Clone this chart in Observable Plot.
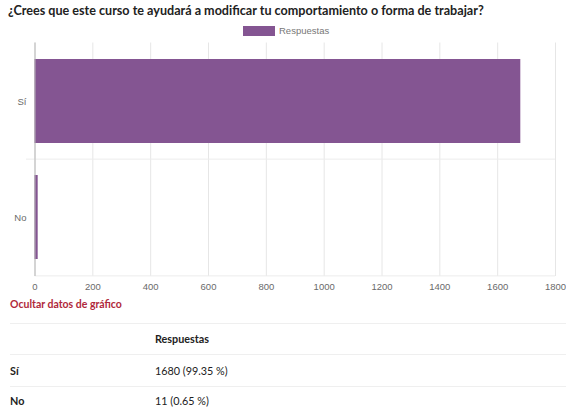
<!DOCTYPE html>
<html>
<head>
<meta charset="utf-8">
<script src="https://cdn.jsdelivr.net/npm/d3@7"></script>
<script src="https://cdn.jsdelivr.net/npm/@observablehq/plot@0.6"></script>
<style>
  html, body { margin: 0; padding: 0; background: #fff; }
  #wrap { position: relative; width: 566px; height: 412px; overflow: hidden; font-family: Lato, "Noto Sans", sans-serif; }
  .abs { position: absolute; white-space: nowrap; }
  #title { left: 8px; top: 3px; font-size: 12.6px; font-weight: 700; color: #222; }
  #legend-swatch { left: 243px; top: 26px; width: 32px; height: 10px; }
  #legend-text { left: 279px; top: 25px; font-family: "Liberation Sans", Arial, sans-serif; font-size: 9.5px; color: #777; line-height: 12px; }
  #chart { left: 0; top: 38px; }
  #toggle { left: 10px; top: 298px; font-size: 10.5px; font-weight: 700; color: #b0283a; }
  .hline { position: absolute; left: 10px; width: 556px; height: 1px; background: #efefef; }
  .cell { position: absolute; font-size: 10.8px; color: #222; line-height: 14px; }
  .b { font-weight: 700; }
</style>
</head>
<body>
<div id="wrap">
  <div id="title" class="abs"></div>
  <div id="legend-swatch" class="abs"></div>
  <div id="legend-text" class="abs"></div>
  <div id="chart" class="abs"></div>
  <div id="toggle" class="abs"></div>
  <div id="table"></div>
</div>
<script>
const titleText = "¿Crees que este curso te ayudará a modificar tu comportamiento o forma de trabajar?";
const seriesName = "Respuestas";
const categories = ["Sí", "No"];
const values = [1680, 11];
const percents = ["99.35 %", "0.65 %"];
const xTicks = [0, 200, 400, 600, 800, 1000, 1200, 1400, 1600, 1800];
const barColor = "#845592";
const toggleText = "Ocultar datos de gráfico";

const data = categories.map((c, i) => ({category: c, value: values[i]}));

document.getElementById("title").textContent = titleText;
document.getElementById("legend-swatch").style.background = barColor;
document.getElementById("legend-text").textContent = seriesName;
document.getElementById("toggle").textContent = toggleText;

const W = 566, H = 258, mt = 4.5, mb = 20, ml = 34.5, mr = 11;
const bw = (H - mt - mb) / categories.length;

const chart = Plot.plot({
  width: W,
  height: H,
  marginTop: mt,
  marginBottom: mb,
  marginLeft: ml,
  marginRight: mr,
  style: {fontFamily: "'Liberation Sans', Arial, sans-serif", fontSize: "9.5px", color: "#6a6a6a", background: "transparent", overflow: "visible"},
  x: {domain: [0, 1800], ticks: xTicks, tickFormat: d => String(d), tickSize: 0, tickPadding: 7, label: null},
  y: {domain: categories, padding: 0, tickSize: 0, tickPadding: 8.5, label: null},
  marks: [
    Plot.ruleX(xTicks, {stroke: "#e6e6e6"}),
    Plot.ruleY([categories[1]], {dy: -bw / 2, insetLeft: -8.5, stroke: "#ececec"}),
    Plot.ruleY([categories[1]], {dy: bw / 2, stroke: "#ececec"}),
    Plot.barX(data, {x: "value", y: "category", fill: barColor, insetTop: 16, insetBottom: 16}),
    Plot.ruleX([0], {stroke: "#b5b5b5"})
  ]
});
document.getElementById("chart").appendChild(chart);

// data table
const table = document.getElementById("table");
const lineYs = [323, 354, 386];
lineYs.forEach(y => {
  const d = document.createElement("div");
  d.className = "hline";
  d.style.top = y + "px";
  table.appendChild(d);
});
function cell(text, x, cy, bold) {
  const d = document.createElement("div");
  d.className = "cell" + (bold ? " b" : "");
  d.style.left = x + "px";
  d.style.top = (cy - 7) + "px";
  d.textContent = text;
  table.appendChild(d);
}
cell(seriesName, 155, 339, true);
const rowYs = [371, 401];
categories.forEach((c, i) => {
  cell(c, 10, rowYs[i], true);
  cell(values[i] + " (" + percents[i] + ")", 155, rowYs[i], false);
});
</script>
</body>
</html>
